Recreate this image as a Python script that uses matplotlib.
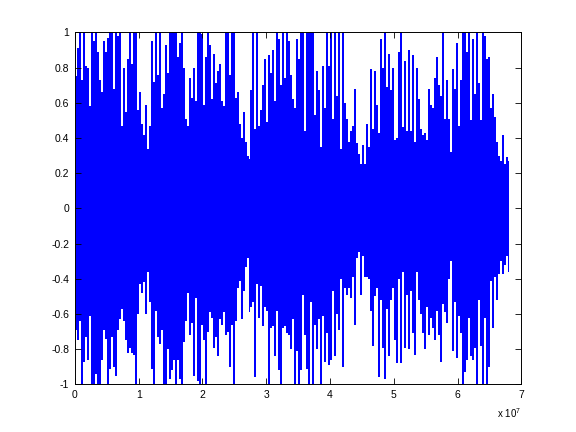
import numpy as np
import matplotlib
matplotlib.use('Agg')
import matplotlib.pyplot as plt

# envelope of the waveform (one value per ~2 px column)
top_vals = [
    0.75, 0.91, 1.00, 0.73, 1.00, 0.81, 0.80, 0.58, 1.00, 0.95,
    1.00, 0.89, 0.73, 0.66, 0.95, 0.89, 0.97, 1.00, 1.00, 0.68,
    1.00, 0.98, 1.00, 0.47, 0.80, 0.55, 0.85, 1.00, 0.82, 1.00,
    1.00, 0.56, 0.66, 0.48, 0.42, 0.59, 0.34, 0.47, 0.95, 0.72,
    1.00, 0.76, 1.00, 0.57, 0.65, 0.93, 0.77, 1.00, 1.00, 1.00,
    1.00, 0.86, 0.94, 1.00, 0.80, 0.51, 0.47, 0.74, 0.63, 0.80,
    0.61, 1.00, 1.00, 0.99, 0.59, 0.86, 1.00, 0.93, 0.62, 0.88,
    0.71, 0.78, 0.82, 0.61,
    0.58, 1.00, 1.00, 0.76, 1.00, 1.00, 0.63, 0.66, 0.48, 0.40,
    0.55, 0.38, 0.30, 0.28, 0.67, 1.00, 0.45, 1.00, 0.47, 0.56,
    0.70, 0.85, 0.49, 0.87, 0.77, 0.90, 0.61, 1.00, 0.96, 0.70,
    1.00, 0.74, 1.00, 0.95, 0.76, 0.62, 0.57, 0.96, 0.85, 1.00,
    1.00, 0.44, 1.00, 1.00, 1.00, 1.00, 0.53, 0.78, 0.67, 0.35,
    0.81, 0.57, 1.00, 0.81, 1.00, 0.51, 1.00, 0.64, 1.00, 0.34,
    1.00, 0.60, 0.51, 0.38, 0.44, 0.47, 0.68, 0.37, 0.31, 0.25,
    0.36, 0.25, 0.48, 0.35,
    0.79, 0.45, 0.78, 0.59, 0.43, 0.96, 0.80, 1.00, 0.69, 0.88,
    0.67, 0.80, 0.39, 0.40, 0.89, 1.00, 0.46, 0.84, 0.44, 0.90,
    0.44, 0.87, 0.38, 0.80, 0.62, 0.45, 0.42, 0.43, 0.39, 0.68,
    0.59, 0.57, 0.74, 0.86, 0.70, 0.64, 1.00, 0.51, 0.73, 0.51,
    0.32, 0.79, 0.68, 0.94, 0.47, 0.73, 1.00, 1.00, 0.89, 1.00,
    0.50, 0.96, 0.65, 1.00, 0.71, 0.50, 1.00, 0.98, 0.85, 0.86,
    0.57, 0.65, 0.52, 0.38, 0.30, 0.27, 0.42, 0.25, 0.29, 0.27,
]
bottom_vals = [
    -0.69, -0.75, -0.64, -1.00, -0.87, -0.73, -0.86, -0.61, -1.00, -1.00,
    -0.94, -1.00, -1.00, -0.86, -0.69, -0.74, -1.00, -0.91, -0.73, -0.90,
    -0.95, -0.69, -0.63, -0.57, -0.64, -0.75, -0.82, -0.79, -0.82, -0.83,
    -1.00, -0.60, -0.43, -0.48, -0.42, -0.60, -0.36, -0.53, -0.91, -1.00,
    -0.58, -0.73, -0.77, -0.69, -1.00, -1.00, -0.80, -0.97, -0.92, -0.86,
    -1.00, -0.86, -0.97, -1.00, -0.76, -0.64, -0.48, -0.72, -0.65, -0.95,
    -0.51, -0.98, -1.00, -0.66, -0.75, -1.00, -0.70, -0.59, -0.62, -0.79,
    -0.73, -0.84, -0.63, -0.66,
    -0.59, -0.72, -0.70, -0.90, -0.66, -1.00, -0.64, -0.45, -0.41, -0.63,
    -0.47, -0.33, -0.28, -0.59, -0.56, -0.53, -0.96, -0.43, -0.62, -0.44,
    -0.67, -0.56, -0.58, -1.00, -0.68, -0.67, -0.84, -0.58, -0.92, -1.00,
    -0.68, -0.67, -0.71, -0.72, -0.80, -0.63, -1.00, -0.81, -1.00, -0.92,
    -0.49, -0.72, -0.91, -1.00, -0.53, -1.00, -0.66, -0.80, -0.63, -1.00,
    -0.61, -0.87, -0.71, -0.89, -0.86, -0.47, -0.84, -0.60, -0.69, -0.40,
    -0.90, -0.45, -0.49, -0.45, -0.51, -0.39, -0.66, -0.28, -0.25, -0.49,
    -0.27, -0.39, -0.39, -0.40,
    -0.58, -0.78, -0.50, -0.45, -0.96, -0.52, -0.79, -0.97, -0.57, -0.84,
    -0.52, -0.45, -0.75, -0.88, -0.40, -0.88, -0.36, -0.79, -0.49, -0.80,
    -0.47, -0.71, -0.83, -0.36, -0.52, -0.60, -0.71, -0.80, -0.56, -0.72,
    -0.62, -0.68, -0.75, -0.58, -0.72, -0.87, -0.54, -0.59, -0.65, -0.40,
    -0.30, -0.81, -0.53, -0.85, -0.61, -0.71, -1.00, -0.93, -0.86, -0.62,
    -0.84, -0.86, -0.79, -1.00, -0.52, -0.78, -1.00, -0.62, -1.00, -0.90,
    -0.41, -0.68, -0.39, -0.52, -0.37, -0.30, -0.37, -0.32, -0.27, -0.36,
]
n_samples = 6.8e7
xticks = [0, 1, 2, 3, 4, 5, 6, 7]
yticks = [-1, -0.8, -0.6, -0.4, -0.2, 0, 0.2, 0.4, 0.6, 0.8, 1]
ytick_labels = ['-1', '-0.8', '-0.6', '-0.4', '-0.2', '0', '0.2', '0.4', '0.6', '0.8', '1']

plt.rcParams['font.family'] = 'Liberation Sans'
plt.rcParams['mathtext.fontset'] = 'custom'
plt.rcParams['mathtext.rm'] = 'Liberation Sans'

top = np.array(top_vals)
bottom = np.array(bottom_vals)
x = np.linspace(2e5, n_samples, len(top))

fig = plt.figure(figsize=(5.76, 4.32), dpi=100)
ax = fig.add_axes([0.13, 0.11, 0.775, 0.815])
ax.fill_between(x, bottom, top, step='mid', color='#0000ff', linewidth=0)

ax.set_xlim(0, 7e7)
ax.set_ylim(-1, 1)
ax.set_xticks([t * 1e7 for t in xticks])
ax.set_xticklabels([str(t) for t in xticks])
ax.set_yticks(yticks)
ax.set_yticklabels(ytick_labels)
ax.tick_params(direction='in', top=True, right=True, length=4, width=0.6,
               labelsize=7.5, pad=4)
for s in ax.spines.values():
    s.set_linewidth(0.7)
ax.text(1.0, -0.062, r'x 10$^{7}$', transform=ax.transAxes,
        ha='right', va='top', fontsize=7)

fig.savefig('out.png', dpi=100)
